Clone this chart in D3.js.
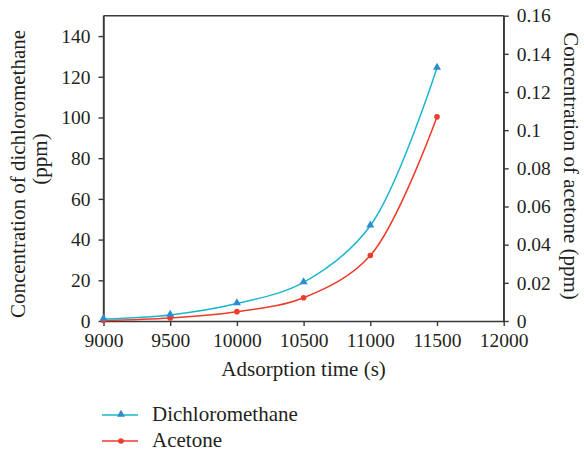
<!DOCTYPE html>
<html><head><meta charset="utf-8">
<script src="https://cdn.jsdelivr.net/npm/d3@7"></script>
<style>
body{margin:0;background:#fff;}
</style></head>
<body><svg id="c" width="584" height="451"></svg>
<script>
const times = [9000, 9500, 10000, 10500, 11000, 11500];
const dichloromethane = [1.0, 3.0, 8.6, 19.0, 46.8, 124.4];
const acetone = [0.0003, 0.0016, 0.0049, 0.0122, 0.0343, 0.107];
const xTicks = [9000, 9500, 10000, 10500, 11000, 11500, 12000];
const yLeftTicks = [0, 20, 40, 60, 80, 100, 120, 140];
const yRightTicks = [0, 0.02, 0.04, 0.06, 0.08, 0.1, 0.12, 0.14, 0.16];
const seriesNames = ["Dichloromethane", "Acetone"];

const FONT = "Liberation Serif";
const svg = d3.select("#c").style("font-family", FONT);
const L = 103.5, R = 503.7, T = 15.7, B = 321;
const x = d3.scaleLinear().domain([9000, 12000]).range([L, R]);
const yL = d3.scaleLinear().domain([0, 150]).range([B, T]);
const yR = d3.scaleLinear().domain([0, 0.16]).range([B, T]);
const axisColor = "#3a3a3a";
const tickFs = 19.5, titleFs = 21;

function styleAxis(g){
  g.attr("font-family", null).attr("font-size", null);
  g.selectAll("path,line").attr("stroke", axisColor).attr("stroke-width", 1.4);
  g.selectAll("text").attr("fill", "#231f20").style("font-family", FONT).style("font-size", tickFs + "px");
}
svg.append("g").attr("transform", `translate(0,${B})`)
  .call(d3.axisBottom(x).tickValues(xTicks).tickSize(5).tickSizeOuter(0).tickPadding(7).tickFormat(d3.format("d")))
  .call(styleAxis);
svg.append("g").attr("transform", `translate(${L},0)`)
  .call(d3.axisLeft(yL).tickValues(yLeftTicks).tickSize(5).tickSizeOuter(0).tickPadding(8))
  .call(styleAxis);
svg.append("g").attr("transform", `translate(${R},0)`)
  .call(d3.axisRight(yR).tickValues(yRightTicks).tickSize(5).tickSizeOuter(0).tickPadding(8)
    .tickFormat(d => d === 0 ? "0" : d3.format("")(+d.toFixed(2))))
  .call(styleAxis);
svg.append("line").attr("x1", L).attr("x2", R).attr("y1", T).attr("y2", T)
  .attr("stroke", axisColor).attr("stroke-width", 1.4);
svg.append("line").attr("x1", L).attr("x2", L).attr("y1", T).attr("y2", B).attr("stroke", axisColor).attr("stroke-width", 1.4);
svg.append("line").attr("x1", R).attr("x2", R).attr("y1", T).attr("y2", B).attr("stroke", axisColor).attr("stroke-width", 1.4);

const cDcm = "#1ab6cf", mDcm = "#2b8ccf", cAce = "#ee3b2a";
const lineL = d3.line().x((d, i) => x(times[i])).y(d => yL(d)).curve(d3.curveCatmullRom.alpha(0.5));
const lineR = d3.line().x((d, i) => x(times[i])).y(d => yR(d)).curve(d3.curveCatmullRom.alpha(0.5));

svg.append("path").datum(acetone).attr("d", lineR).attr("fill", "none").attr("stroke", cAce).attr("stroke-width", 1.5);
svg.append("path").datum(dichloromethane).attr("d", lineL).attr("fill", "none").attr("stroke", cDcm).attr("stroke-width", 1.5);

const tri = d3.symbol().type(d3.symbolTriangle).size(28);
svg.selectAll(".mA").data(acetone).join("circle")
  .attr("cx", (d, i) => x(times[i])).attr("cy", d => yR(d)).attr("r", 2.8).attr("fill", cAce);
svg.selectAll(".mD").data(dichloromethane).join("path")
  .attr("d", tri).attr("transform", (d, i) => `translate(${x(times[i])},${yL(d) - 0.5})`).attr("fill", mDcm);

function label(sel){ return sel.style("font-family", FONT).style("font-size", titleFs + "px").attr("fill", "#231f20"); }
label(svg.append("text")).attr("x", (L + R) / 2).attr("y", 376).attr("text-anchor", "middle")
  .text("Adsorption time (s)");
label(svg.append("text")).attr("transform", `translate(25,174) rotate(-90)`).attr("text-anchor", "middle")
  .text("Concentration of dichloromethane");
label(svg.append("text")).attr("transform", `translate(47,159) rotate(-90)`).attr("text-anchor", "middle")
  .text("(ppm)");
label(svg.append("text")).attr("transform", `translate(564,166) rotate(90)`).attr("text-anchor", "middle")
  .text("Concentration of acetone (ppm)");

const legY = [415, 441];
const legColors = [cDcm, cAce];
seriesNames.forEach((name, i) => {
  const g = svg.append("g");
  g.append("line").attr("x1", 102).attr("x2", 138).attr("y1", legY[i]).attr("y2", legY[i])
    .attr("stroke", legColors[i]).attr("stroke-width", 1.5);
  if (i === 0) g.append("path").attr("d", tri).attr("transform", `translate(121,${legY[i] - 0.5})`).attr("fill", mDcm);
  else g.append("circle").attr("cx", 121).attr("cy", legY[i]).attr("r", 2.8).attr("fill", cAce);
  label(g.append("text")).attr("x", 152).attr("y", legY[i] + 6).text(name);
});
</script></body></html>
